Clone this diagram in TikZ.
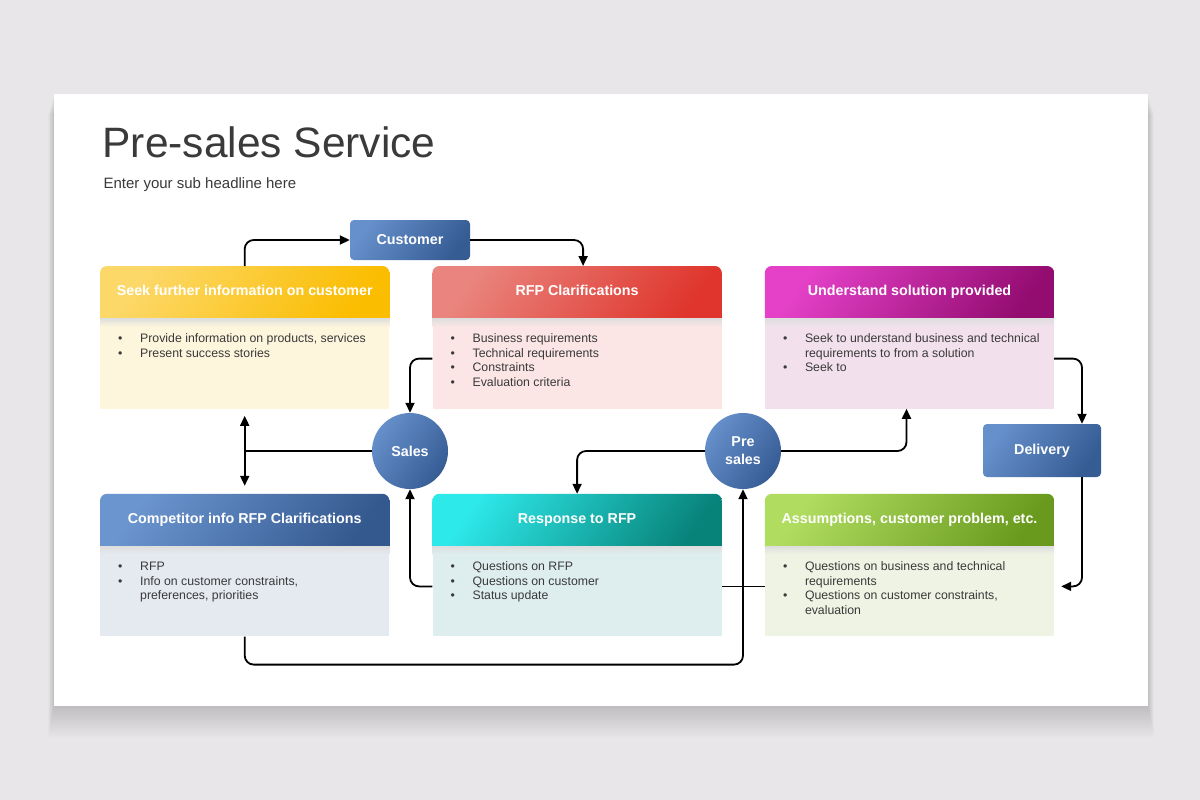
\documentclass[tikz,border=0pt]{standalone}
\usepackage{fontspec}
\setmainfont{Liberation Sans}
\usetikzlibrary{arrows.meta,positioning,calc,backgrounds}

\definecolor{pagegray}{HTML}{E8E6E8}
\definecolor{inkgray}{HTML}{3A3A3A}
\definecolor{yelA}{HTML}{FCD869}
\definecolor{yelB}{HTML}{FBBD00}
\definecolor{yelbody}{HTML}{FDF5DC}
\definecolor{redA}{HTML}{E9857E}
\definecolor{redB}{HTML}{DF352C}
\definecolor{redbody}{HTML}{FBE5E5}
\definecolor{magA}{HTML}{E441C8}
\definecolor{magB}{HTML}{930C70}
\definecolor{magbody}{HTML}{F2E1EC}
\definecolor{bluA}{HTML}{6B95CF}
\definecolor{bluB}{HTML}{34598F}
\definecolor{blubody}{HTML}{E5E9F0}
\definecolor{cyaA}{HTML}{2EE9EA}
\definecolor{cyaB}{HTML}{08837A}
\definecolor{cyabody}{HTML}{DEEEEE}
\definecolor{grnA}{HTML}{B0DD60}
\definecolor{grnB}{HTML}{699A1E}
\definecolor{grnbody}{HTML}{EEF3E3}
\definecolor{boxA}{HTML}{6690CB}
\definecolor{boxB}{HTML}{365C94}

\newcommand{\bul}{\textbullet}

\begin{document}
\begin{tikzpicture}[
    x=1pt, y=-1pt,
    >={Triangle[length=10pt,width=9pt]},
    head/.style={minimum width=289pt, minimum height=52pt, inner sep=0pt, text height=10.5pt, text depth=3pt, text=white, font=\fontsize{14.3}{17}\selectfont\bfseries},
    body/.style={minimum width=289pt, minimum height=90pt, inner sep=0pt},
    list/.style={inner sep=0pt, text=inkgray, font=\fontsize{12.3}{14.5}\selectfont},
    bluebox/.style={rounded corners=4pt, top color=boxA, bottom color=boxB, shading angle=55, text=white, font=\fontsize{14.3}{17}\selectfont\bfseries, minimum width=120pt, minimum height=40pt},
    bubble/.style={circle, top color=boxA, bottom color=boxB, shading angle=55, minimum size=76pt, inner sep=0pt, text=white, font=\fontsize{14.3}{18}\selectfont\bfseries, align=center},
    conn/.style={draw=black, line width=1.8pt, rounded corners=9pt, ->}
]
\useasboundingbox (0,0) rectangle (1200,800);

% slide
\begin{scope}[on background layer]
\fill[pagegray] (0,0) rectangle (1200,800);
\foreach \i in {1,...,20}
  \fill[black, opacity=0.009] (54-\i*0.3,94+\i) rectangle (1148+\i*0.3,706+\i*1.6);
\fill[white] (54,94) rectangle (1148,706);
\end{scope}

\node[anchor=base west, text=inkgray, font=\fontsize{42.5}{50}\selectfont] (title) at (99,157) {Pre-sales Service};
\node[anchor=base west, text=inkgray, font=\fontsize{15}{18}\selectfont] (subtitle) at (100,188) {Enter your sub headline here};

\node[bluebox] (customer) at (410,240) {Customer};

% top row
\node[head, anchor=north west] (seekh) at (100,266) {Seek further information on customer};
\node[head, right=43pt of seekh] (rfph) {RFP Clarifications};
\node[head, right=43pt of rfph] (undh) {Understand solution provided};
\node[body, fill=yelbody, below=0pt of seekh] (seekb) {};
\node[body, fill=redbody, below=0pt of rfph] (rfpb) {};
\node[body, fill=magbody, below=0pt of undh] (undb) {};

% bottom row
\node[head, below=85pt of seekb] (comph) {Competitor info RFP Clarifications};
\node[head, right=43pt of comph] (resph) {Response to RFP};
\node[head, right=43pt of resph] (assh) {Assumptions, customer problem, etc.};
\node[body, fill=blubody, below=0pt of comph] (compb) {};
\node[body, fill=cyabody, below=0pt of resph] (respb) {};
\node[body, fill=grnbody, below=0pt of assh] (assb) {};

\foreach \b/\c in {seekb/yelbody, rfpb/redbody, undb/magbody, compb/blubody, respb/cyabody, assb/grnbody}
  \shade[top color=black!13, bottom color=\c] (\b.north west) rectangle ([yshift=-8pt]\b.north east);

\node[list, below right=14pt and 18pt of seekb.north west] (seekl) {\begin{tabular}{@{}p{22pt}@{}l@{}}
\bul & Provide information on products, services\\
\bul & Present success stories
\end{tabular}};
\node[list, below right=14pt and 18pt of rfpb.north west] (rfpl) {\begin{tabular}{@{}p{22pt}@{}l@{}}
\bul & Business requirements\\
\bul & Technical requirements\\
\bul & Constraints\\
\bul & Evaluation criteria
\end{tabular}};
\node[list, below right=14pt and 18pt of undb.north west] (undl) {\begin{tabular}{@{}p{22pt}@{}l@{}}
\bul & Seek to understand business and technical\\
     & requirements to from a solution\\
\bul & Seek to
\end{tabular}};
\node[list, below right=14pt and 18pt of compb.north west] (compl) {\begin{tabular}{@{}p{22pt}@{}l@{}}
\bul & RFP\\
\bul & Info on customer constraints,\\
     & preferences, priorities
\end{tabular}};
\node[list, below right=14pt and 18pt of respb.north west] (respl) {\begin{tabular}{@{}p{22pt}@{}l@{}}
\bul & Questions on RFP\\
\bul & Questions on customer\\
\bul & Status update
\end{tabular}};
\node[list, below right=14pt and 18pt of assb.north west] (assl) {\begin{tabular}{@{}p{22pt}@{}l@{}}
\bul & Questions on business and technical\\
     & requirements\\
\bul & Questions on customer constraints,\\
     & evaluation
\end{tabular}};

\node[bubble] (sales) at (410,451) {Sales};
\node[bubble] (presales) at (743,451) {Pre\\sales};
\node[bluebox, minimum width=118pt, minimum height=53pt] (delivery) at (1042,450.5) {Delivery};

% header fills
\begin{scope}[on background layer]
\foreach \h/\ca/\cb in {seekh/yelA/yelB, rfph/redA/redB, undh/magA/magB, comph/bluA/bluB, resph/cyaA/cyaB, assh/grnA/grnB}{
  \begin{scope}
    \clip (\h.south west) rectangle (\h.north east);
    \shade[rounded corners=7pt, top color=\ca, bottom color=\cb, shading angle=55] (\h.north west) rectangle ([yshift=-10pt]\h.south east);
  \end{scope}
}
\end{scope}

\draw[conn] (seekh.north) |- (customer.west);
\draw[conn] (customer.east) -| ([xshift=6pt]rfph.north);
\draw[conn] ([yshift=5pt]rfpb.west) -| (sales.north);
\draw[conn, -] (sales.west) -- (sales.west -| seekb.south);
\draw[conn, <->, shorten <=7pt, shorten >=8pt] (seekb.south) -- (comph.north);
\draw[conn] ([yshift=5pt]respb.west) -| (sales.south);
\draw[conn] (presales.west) -| (resph.north);
\draw[conn] (presales.east) -| ([xshift=-3pt]undb.south);
\draw[conn] ([yshift=5pt]undb.east) -| ([xshift=40pt]delivery.north);
\draw[conn, shorten >=7pt] ([xshift=40pt]delivery.south) |- ([yshift=5pt]assb.east);
\draw[conn] (compb.south) -- ++(0,28) -| (presales.south);
\draw[conn, -] ([yshift=5pt]respb.east) -- ([yshift=5pt]assb.west);

\end{tikzpicture}
\end{document}
